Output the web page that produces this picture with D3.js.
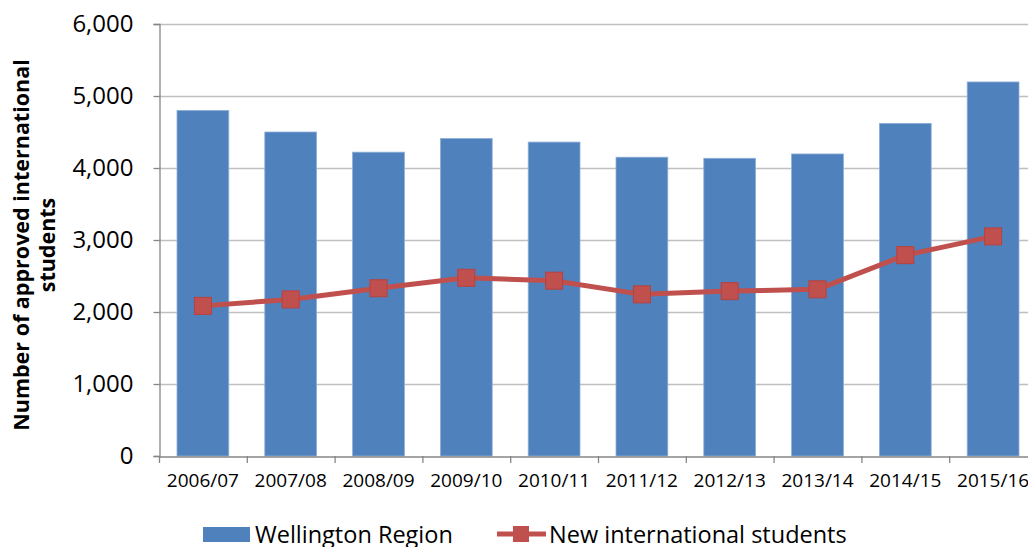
<!DOCTYPE html>
<html><head><meta charset="utf-8">
<script src="https://cdn.jsdelivr.net/npm/d3@7"></script>
<style>body{margin:0;background:#fff;} svg{display:block;}</style>
</head><body>
<script>
const categories = ["2006/07","2007/08","2008/09","2009/10","2010/11","2011/12","2012/13","2013/14","2014/15","2015/16"];
const wellingtonRegion = [4800,4500,4220,4410,4360,4150,4135,4195,4620,5195];
const newInternational = [2085,2175,2330,2475,2435,2245,2290,2315,2790,3050];
const yTicks = [0,1000,2000,3000,4000,5000,6000];
const seriesNames = ["Wellington Region","New international students"];

(function () {
const W = 1028, H = 547;
const pL = 159, pR = 1037, pT = 24, pB = 456;
const svg = d3.select("body").append("svg").attr("width", W).attr("height", H);
const font = "'Open Sans', sans-serif";

const x = d3.scaleBand().domain(categories).range([pL, pR]).paddingInner(0.41).paddingOuter(0.205);
const xs = d3.scaleBand().domain(categories).range([pL, pR]);
const y = d3.scaleLinear().domain([0, 6000]).range([pB, pT]);

// gridlines
svg.append("g").selectAll("line").data(yTicks.filter(d => d > 0)).join("line")
  .attr("x1", pL).attr("x2", W).attr("y1", d => Math.round(y(d)) + 0.5).attr("y2", d => Math.round(y(d)) + 0.5)
  .attr("stroke", "#c0c0c0").attr("stroke-width", 1.3);

// bars
svg.append("g").selectAll("rect").data(wellingtonRegion).join("rect")
  .attr("x", (d, i) => x(categories[i])).attr("width", x.bandwidth())
  .attr("y", d => y(d)).attr("height", d => y(0) - y(d))
  .attr("fill", "#4F81BD").attr("stroke", "#8fb0d8").attr("stroke-width", 0.8);

// y axis
const ya = svg.append("g").attr("transform", `translate(${pL + 0.5},0)`)
  .call(d3.axisLeft(y).tickValues(yTicks).tickSize(6).tickPadding(20).tickFormat(d3.format(",")));
ya.select(".domain").attr("stroke", "#868686").attr("stroke-width", 1.3);
ya.selectAll(".tick line").attr("stroke", "#868686").attr("stroke-width", 1.3);
ya.selectAll(".tick text").attr("font-family", font).attr("font-size", 24).attr("fill", "#000");

// x axis
const xa = svg.append("g").attr("transform", `translate(0,${pB + 0.5})`)
  .call(d3.axisBottom(xs).tickSize(0).tickPadding(17));
xa.select(".domain").attr("stroke", "#868686").attr("stroke-width", 1.3);
xa.selectAll(".tick text").attr("font-family", font).attr("font-size", 19).attr("fill", "#000");
svg.append("g").selectAll("line").data(d3.range(categories.length + 1)).join("line")
  .attr("x1", i => pL + 0.5 + i * xs.step()).attr("x2", i => pL + 0.5 + i * xs.step())
  .attr("y1", pB).attr("y2", pB + 7).attr("stroke", "#868686").attr("stroke-width", 1.3);

// line series
const cx = i => x(categories[i]) + x.bandwidth() / 2;
const line = d3.line().x((d, i) => cx(i)).y(d => y(d));
svg.append("path").datum(newInternational).attr("d", line)
  .attr("fill", "none").attr("stroke", "#C0504D").attr("stroke-width", 5).attr("stroke-linejoin", "round");
const ms = 17;
svg.append("g").selectAll("rect").data(newInternational).join("rect")
  .attr("x", (d, i) => cx(i) - ms / 2).attr("y", d => y(d) - ms / 2)
  .attr("width", ms).attr("height", ms)
  .attr("fill", "#C0504D").attr("stroke", "#b9413e").attr("stroke-width", 1);

// y title
const tt = svg.append("text").attr("transform", `translate(33,${(pT + pB) / 2 + 5}) rotate(-90)`)
  .attr("text-anchor", "middle").attr("font-family", font).attr("font-weight", "bold").attr("font-size", 21.5).attr("fill", "#000");
tt.append("tspan").attr("x", 0).attr("dy", "-0.2em").text("Number of approved international");
tt.append("tspan").attr("x", 0).attr("dy", "1.2em").text("students");

// legend
const lg = svg.append("g");
lg.append("rect").attr("x", 203).attr("y", 527).attr("width", 47).attr("height", 15).attr("fill", "#4F81BD");
lg.append("text").attr("x", 255).attr("y", 543).attr("font-family", font).attr("font-size", 23.5).attr("fill", "#000").text(seriesNames[0]);
lg.append("line").attr("x1", 497).attr("x2", 546).attr("y1", 534).attr("y2", 534).attr("stroke", "#C0504D").attr("stroke-width", 5);
lg.append("rect").attr("x", 513).attr("y", 526).attr("width", 16).attr("height", 16).attr("fill", "#C0504D");
lg.append("text").attr("x", 549).attr("y", 543).attr("font-family", font).attr("font-size", 23.5).attr("fill", "#000").text(seriesNames[1]);
})();
</script>
</body></html>
